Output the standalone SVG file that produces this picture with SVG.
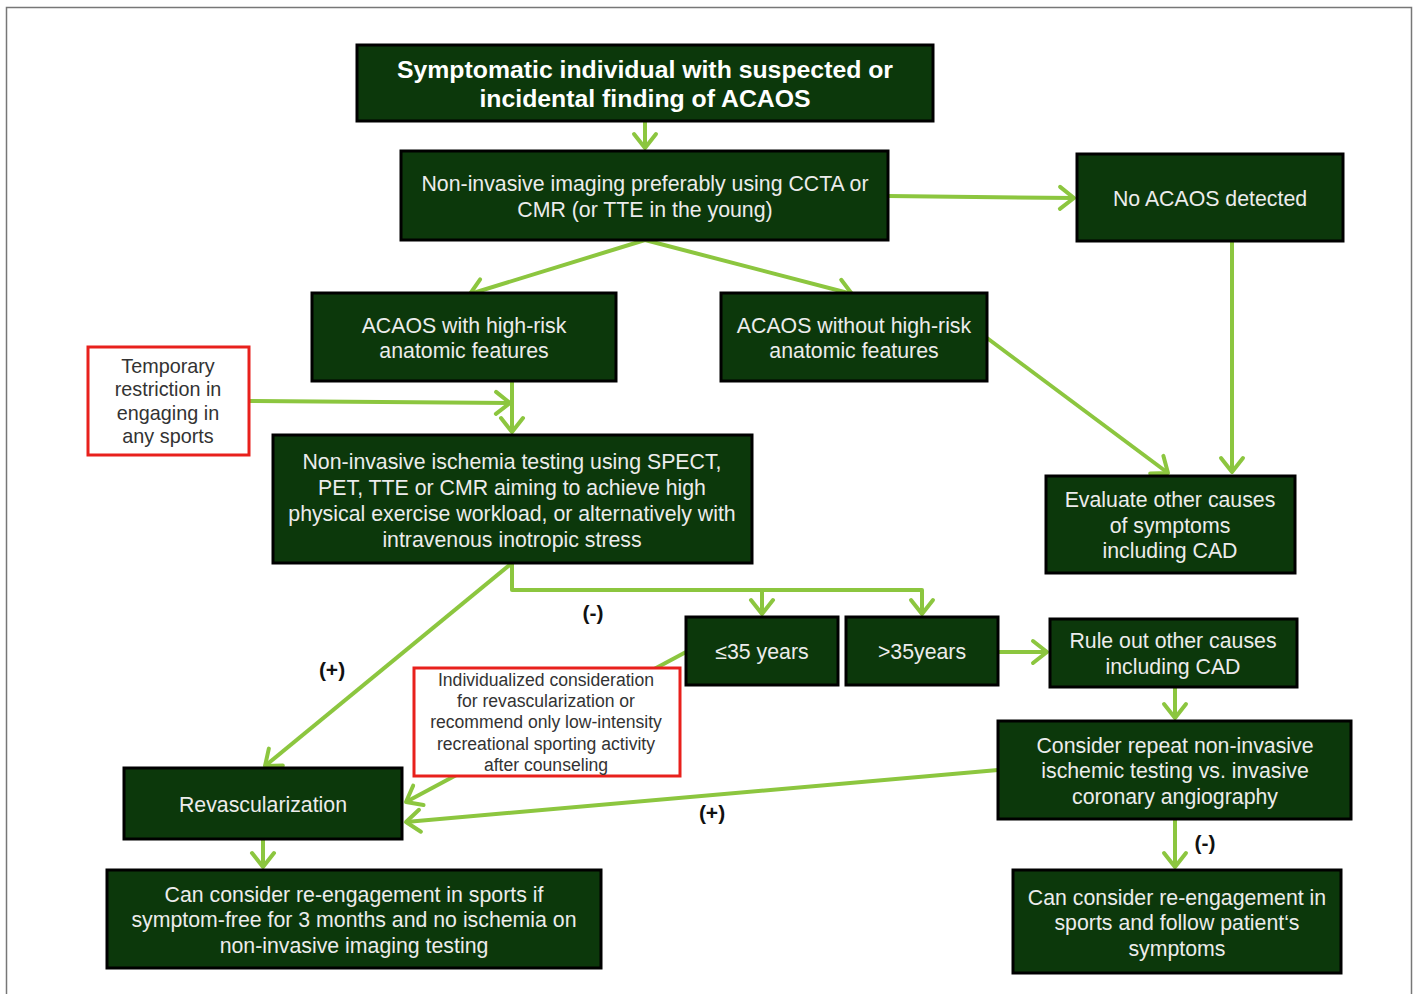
<svg xmlns="http://www.w3.org/2000/svg" width="1416" height="994" viewBox="0 0 1416 994">
<style>
.n{fill:#0c380b;stroke:#000;stroke-width:3}
.r{fill:#fff;stroke:#e8201c;stroke-width:3}
.t{font-family:"Liberation Sans",Arial,sans-serif;font-size:21.3px;fill:#ececec;text-anchor:middle}
.b{font-weight:bold;font-size:24.8px;fill:#fff}
.d{font-family:"Liberation Sans",Arial,sans-serif;font-size:19.8px;fill:#333;text-anchor:middle}
.s{font-size:17.6px}
.l{font-family:"Liberation Sans",Arial,sans-serif;font-size:21px;font-weight:bold;fill:#111;text-anchor:middle}
.c{fill:none;stroke:#8cc63f;stroke-width:4;stroke-linejoin:round}
</style>
<defs>
<marker id="a" markerUnits="userSpaceOnUse" markerWidth="30" markerHeight="30" viewBox="-16 -15 20 30" refX="0" refY="0" orient="auto">
<path d="M-14,-11 L0,0 L-14,11" fill="none" stroke="#8cc63f" stroke-width="4" stroke-linecap="round" stroke-linejoin="round"/>
</marker>
</defs>
<rect x="0" y="0" width="1416" height="994" fill="#fff"/>
<path d="M6.5,1000 V7.5 H1411.5 V1000" fill="none" stroke="#777" stroke-width="1.5"/>
<g id="connectors">
<path class="c" d="M645,121 V148" marker-end="url(#a)"/>
<path class="c" d="M888,196 L1074,198" marker-end="url(#a)"/>
<path class="c" d="M645,240 L470,294" marker-end="url(#a)"/>
<path class="c" d="M645,240 L852,294" marker-end="url(#a)"/>
<path class="c" d="M1232,241 V472" marker-end="url(#a)"/>
<path class="c" d="M987,338 L1168,473" marker-end="url(#a)"/>
<path class="c" d="M512,381 V432" marker-end="url(#a)"/>
<path class="c" d="M249,401 L510,403" marker-end="url(#a)"/>
<path class="c" d="M512,563 L265,766" marker-end="url(#a)"/>
<path class="c" d="M512,563 V590 H922 V614" marker-end="url(#a)"/>
<path class="c" d="M762,590 V614" marker-end="url(#a)"/>
<path class="c" d="M998,652 L1047,652" marker-end="url(#a)"/>
<path class="c" d="M1175,687 V718" marker-end="url(#a)"/>
<path class="c" d="M998,770 L406,822" marker-end="url(#a)"/>
<path class="c" d="M686,652 L406,802" marker-end="url(#a)"/>
<path class="c" d="M263,839 V867" marker-end="url(#a)"/>
<path class="c" d="M1175,819 V867" marker-end="url(#a)"/>
</g>
<g id="n1"><rect class="n" x="357" y="45" width="576" height="76"/>
<text class="t b" x="645" y="78">Symptomatic individual with suspected or</text>
<text class="t b" x="645" y="107">incidental finding of ACAOS</text></g>
<g id="n2"><rect class="n" x="401" y="151" width="487" height="89"/>
<text class="t" x="645" y="191">Non-invasive imaging preferably using CCTA or</text>
<text class="t" x="645" y="217">CMR (or TTE in the young)</text></g>
<g id="n3"><rect class="n" x="1077" y="154" width="266" height="87"/>
<text class="t" x="1210" y="206">No ACAOS detected</text></g>
<g id="n4"><rect class="n" x="312" y="293" width="304" height="88"/>
<text class="t" x="464" y="333">ACAOS with high-risk</text>
<text class="t" x="464" y="358">anatomic features</text></g>
<g id="n5"><rect class="n" x="721" y="293" width="266" height="88"/>
<text class="t" x="854" y="333">ACAOS without high-risk</text>
<text class="t" x="854" y="358">anatomic features</text></g>
<g id="n6"><rect class="r" x="88" y="347" width="161" height="108"/>
<text class="d" x="168" y="373">Temporary</text>
<text class="d" x="168" y="396">restriction in</text>
<text class="d" x="168" y="420">engaging in</text>
<text class="d" x="168" y="443">any sports</text></g>
<g id="n7"><rect class="n" x="273" y="435" width="479" height="128"/>
<text class="t" x="512" y="469">Non-invasive ischemia testing using SPECT,</text>
<text class="t" x="512" y="495">PET, TTE or CMR aiming to achieve high</text>
<text class="t" x="512" y="521">physical exercise workload, or alternatively with</text>
<text class="t" x="512" y="547">intravenous inotropic stress</text></g>
<g id="n8"><rect class="n" x="1046" y="476" width="249" height="97"/>
<text class="t" x="1170" y="507">Evaluate other causes</text>
<text class="t" x="1170" y="533">of symptoms</text>
<text class="t" x="1170" y="558">including CAD</text></g>
<g id="n9"><rect class="n" x="686" y="617" width="152" height="68"/>
<text class="t" x="762" y="659">≤35 years</text></g>
<g id="n10"><rect class="n" x="846" y="617" width="152" height="68"/>
<text class="t" x="922" y="659">&gt;35years</text></g>
<g id="n11"><rect class="n" x="1050" y="619" width="247" height="68"/>
<text class="t" x="1173" y="648">Rule out other causes</text>
<text class="t" x="1173" y="674">including CAD</text></g>
<g id="n12"><rect class="n" x="998" y="721" width="353" height="98"/>
<text class="t" x="1175" y="753">Consider repeat non-invasive</text>
<text class="t" x="1175" y="778">ischemic testing vs. invasive</text>
<text class="t" x="1175" y="804">coronary angiography</text></g>
<g id="n13"><rect class="n" x="124" y="768" width="278" height="71"/>
<text class="t" x="263" y="812">Revascularization</text></g>
<g id="n14"><rect class="r" x="414" y="668" width="266" height="108"/>
<text class="d s" x="546" y="686">Individualized consideration</text>
<text class="d s" x="546" y="707">for revascularization or</text>
<text class="d s" x="546" y="728">recommend only low-intensity</text>
<text class="d s" x="546" y="750">recreational sporting activity</text>
<text class="d s" x="546" y="771">after counseling</text></g>
<g id="n15"><rect class="n" x="107" y="870" width="494" height="98"/>
<text class="t" x="354" y="902">Can consider re-engagement in sports if</text>
<text class="t" x="354" y="927">symptom-free for 3 months and no ischemia on</text>
<text class="t" x="354" y="953">non-invasive imaging testing</text></g>
<g id="n16"><rect class="n" x="1013" y="870" width="328" height="103"/>
<text class="t" x="1177" y="905">Can consider re-engagement in</text>
<text class="t" x="1177" y="930">sports and follow patient‘s</text>
<text class="t" x="1177" y="956">symptoms</text></g>
<g id="labels">
<text class="l" x="593" y="620">(-)</text>
<text class="l" x="332" y="677">(+)</text>
<text class="l" x="712" y="820">(+)</text>
<text class="l" x="1205" y="850">(-)</text>
</g>
</svg>
